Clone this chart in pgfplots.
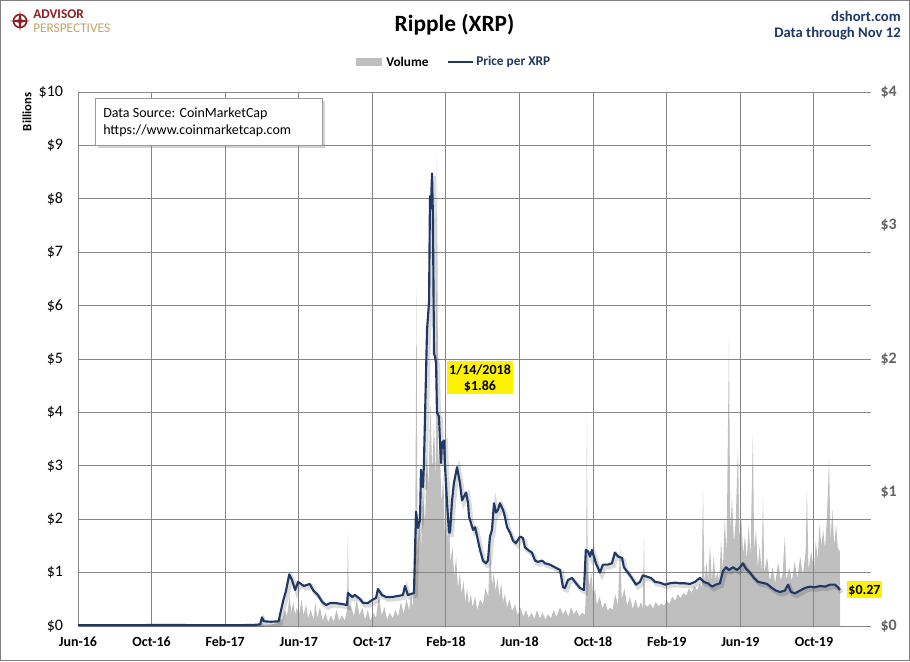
\documentclass[border=0pt]{standalone}
\usepackage{fontspec}
\setmainfont{Carlito}
\usepackage{pgfplots}
\pgfplotsset{compat=1.18}
\usetikzlibrary{shadows}
\definecolor{navy}{RGB}{31,56,100}
\definecolor{volgray}{RGB}{191,191,191}
\definecolor{gridgray}{RGB}{134,134,134}
\definecolor{logored}{RGB}{142,30,34}
\definecolor{logogold}{RGB}{196,162,101}
\definecolor{rightgray}{RGB}{100,100,100}
\begin{document}
\begin{tikzpicture}
\path[use as bounding box] (0,0) rectangle (682.5pt,-495.75pt);
\draw[color=gray, line width=0.75pt] (0.375pt,-0.375pt) rectangle (682.125pt,-495.375pt);

% volume axis
\begin{axis}[
  at={(58.5pt,-469.5pt)}, anchor=south west,
  scale only axis, width=594.75pt, height=400.5pt,
  xmin=0, xmax=43.1, ymin=0, ymax=10,
  axis on top,
  axis line style={draw=none},
  major tick length=0pt,
  xtick={0,4,8,12,16,20,24,28,32,36,40},
  xticklabels={Jun-16,Oct-16,Feb-17,Jun-17,Oct-17,Feb-18,Jun-18,Oct-18,Feb-19,Jun-19,Oct-19},
  ytick={0,1,2,3,4,5,6,7,8,9,10},
  yticklabels={\$0,\$1,\$2,\$3,\$4,\$5,\$6,\$7,\$8,\$9,\$10},
  grid=major,
  major grid style={color=gridgray, line width=0.75pt},
  yticklabel style={font=\fontsize{12}{14}\selectfont, inner sep=0pt, xshift=-11pt},
  xticklabel style={font=\bfseries\fontsize{10.5}{12}\selectfont, inner sep=0pt, yshift=-8pt},
  clip=true,
]
\addplot[draw=none, fill=volgray] coordinates {
(0,0.002)(5,0.003)(9.8,0.005)(10.0,0.06)(10.1,0.02)(10.5,0.03)(10.8,0.05)(11.0,0.15)(11.1,0.1)(11.25,0.3)(11.35,0.18)(11.5,0.55)(11.6,0.25)(11.7,0.45)(11.8,0.22)(11.9,0.35)(12.0,0.18)(12.15,0.5)(12.25,0.2)(12.4,0.4)(12.5,0.15)(12.65,0.3)(12.8,0.12)(12.9,0.45)(13.0,0.15)(13.15,0.35)(13.3,0.1)(13.45,0.25)(13.6,0.07)(13.75,0.2)(13.9,0.08)(14.05,0.3)(14.2,0.1)(14.35,0.2)(14.5,0.1)(14.62,0.3)(14.67,1.76)(14.72,0.4)(14.85,0.35)(15.0,0.18)(15.15,0.5)(15.3,0.2)(15.45,0.35)(15.6,0.12)(15.75,0.3)(15.9,0.1)(16.05,0.25)(16.2,0.15)(16.35,0.6)(16.5,0.2)(16.65,0.35)(16.8,0.12)(16.95,0.25)(17.1,0.14)(17.25,0.3)(17.4,0.18)(17.55,0.45)(17.7,0.22)(17.85,0.5)(18.0,0.3)(18.1,0.6)(18.2,0.35)(18.32,1.2)(18.4,6.3)(18.45,1.4)(18.55,2.0)(18.65,1.5)(18.75,2.5)(18.86,1.9)(18.95,3.2)(19.05,2.6)(19.15,4.2)(19.25,2.9)(19.35,3.8)(19.45,2.7)(19.51,8.9)(19.56,3.0)(19.65,3.6)(19.75,2.3)(19.85,2.8)(19.95,1.6)(20.0,3.0)(20.05,1.6)(20.15,2.0)(20.25,1.2)(20.35,1.5)(20.45,0.9)(20.55,1.3)(20.65,0.7)(20.75,1.0)(20.85,0.6)(20.95,0.85)(21.05,0.45)(21.15,0.7)(21.25,0.4)(21.35,0.6)(21.45,0.35)(21.58,0.55)(21.7,0.3)(21.85,0.5)(22.0,0.4)(22.15,0.7)(22.3,0.55)(22.4,1.5)(22.5,0.75)(22.6,1.0)(22.7,0.65)(22.8,0.9)(22.9,0.55)(23.0,0.8)(23.1,0.45)(23.2,0.6)(23.32,0.35)(23.45,0.5)(23.6,0.28)(23.75,0.4)(23.9,0.2)(24.05,0.35)(24.2,0.18)(24.35,0.3)(24.5,0.15)(24.65,0.25)(24.8,0.13)(24.95,0.3)(25.1,0.14)(25.25,0.25)(25.4,0.12)(25.55,0.22)(25.7,0.14)(25.85,0.3)(26.0,0.17)(26.2,0.35)(26.35,0.22)(26.5,0.3)(26.65,0.18)(26.8,0.35)(26.95,0.22)(27.1,0.3)(27.25,0.18)(27.4,0.25)(27.55,0.2)(27.62,0.8)(27.66,4.1)(27.7,1.0)(27.8,0.75)(27.9,1.0)(28.0,0.55)(28.1,0.7)(28.2,0.4)(28.35,0.55)(28.5,0.33)(28.65,0.45)(28.8,0.28)(28.91,0.35)(29.05,0.3)(29.2,0.6)(29.35,0.38)(29.46,1.55)(29.55,0.5)(29.7,0.7)(29.85,0.38)(30.0,0.55)(30.15,0.32)(30.3,0.5)(30.45,0.32)(30.6,0.45)(30.7,0.32)(30.76,1.67)(30.82,0.4)(30.95,0.36)(31.1,0.42)(31.25,0.33)(31.4,0.45)(31.55,0.37)(31.7,0.42)(31.85,0.38)(32.0,0.47)(32.15,0.42)(32.3,0.55)(32.45,0.47)(32.6,0.6)(32.75,0.52)(32.9,0.62)(33.05,0.57)(33.2,0.7)(33.35,0.62)(33.5,0.75)(33.65,0.67)(33.8,0.8)(33.9,0.72)(33.97,2.55)(34.05,0.82)(34.15,1.2)(34.25,0.87)(34.35,1.5)(34.45,0.85)(34.55,1.3)(34.65,0.88)(34.75,1.0)(34.85,0.85)(34.95,1.6)(35.05,1.05)(35.15,2.0)(35.25,1.35)(35.38,5.36)(35.45,1.8)(35.55,2.4)(35.65,1.55)(35.75,2.0)(35.87,3.35)(35.95,1.65)(36.05,2.0)(36.15,1.35)(36.25,1.7)(36.35,1.25)(36.45,1.9)(36.55,1.3)(36.68,3.6)(36.75,1.4)(36.85,1.8)(36.95,1.1)(37.05,1.5)(37.15,1.0)(37.23,2.4)(37.3,1.0)(37.45,1.3)(37.6,0.85)(37.75,1.1)(37.9,0.8)(38.05,1.2)(38.2,0.85)(38.3,1.0)(38.42,1.7)(38.5,0.85)(38.65,1.1)(38.8,0.85)(38.95,1.2)(39.1,0.9)(39.25,1.3)(39.4,0.95)(39.55,1.4)(39.62,2.55)(39.7,1.05)(39.85,1.4)(40.0,1.05)(40.1,1.6)(40.2,1.25)(40.3,1.9)(40.4,1.5)(40.5,1.8)(40.6,1.45)(40.7,2.0)(40.82,3.1)(40.9,1.6)(41.0,2.2)(41.1,1.5)(41.2,1.9)(41.3,1.45)(41.41,1.4)(41.42,0)
} \closedcycle;
\end{axis}

% price axis
\begin{axis}[
  at={(58.5pt,-469.5pt)}, anchor=south west,
  scale only axis, width=594.75pt, height=400.5pt,
  xmin=0, xmax=43.1, ymin=0, ymax=4,
  axis x line=none,
  axis y line*=right,
  axis line style={draw=none},
  major tick length=0pt,
  ytick={0,1,2,3,4},
  yticklabels={\$0,\$1,\$2,\$3,\$4},
  yticklabel style={font=\bfseries\fontsize{12}{14}\selectfont, text=rightgray, inner sep=0pt, xshift=7pt},
]
\addplot[black, opacity=0.14, line width=3pt, xshift=1.5pt, yshift=-2pt] coordinates {
(0,0.0065)(1,0.0063)(2,0.0068)(3,0.0062)(4,0.0075)(5,0.0078)(6,0.007)(7,0.0065)(8,0.0066)(9,0.007)(9.5,0.0075)(9.9,0.012)(10.0,0.065)(10.1,0.035)(10.5,0.032)(10.9,0.035)(11.16,0.195)(11.3,0.26)(11.48,0.387)(11.63,0.345)(11.8,0.27)(11.96,0.33)(12.28,0.30)(12.6,0.315)(12.77,0.27)(13.04,0.232)(13.26,0.182)(13.48,0.157)(13.7,0.172)(13.97,0.172)(14.35,0.165)(14.62,0.157)(14.67,0.247)(14.9,0.217)(15.05,0.232)(15.33,0.202)(15.49,0.172)(15.76,0.172)(15.98,0.195)(16.2,0.21)(16.3,0.277)(16.52,0.232)(16.74,0.217)(17.07,0.217)(17.39,0.225)(17.66,0.232)(17.77,0.30)(17.93,0.232)(18.26,0.247)(18.37,0.856)(18.48,0.734)(18.59,0.794)(18.64,1.17)(18.75,1.04)(18.8,1.21)(18.97,2.22)(19.08,2.43)(19.13,3.22)(19.18,3.13)(19.24,3.39)(19.29,3.07)(19.35,2.04)(19.4,2.02)(19.46,1.97)(19.51,1.60)(19.62,1.57)(19.67,1.39)(19.73,1.22)(19.78,1.37)(19.89,1.39)(19.95,1.19)(20.05,0.94)(20.16,0.70)(20.22,0.70)(20.33,0.94)(20.43,1.07)(20.6,1.19)(20.76,1.07)(20.87,0.94)(21.09,1.0)(21.2,0.92)(21.25,0.82)(21.47,0.72)(21.58,0.74)(21.74,0.64)(21.85,0.57)(22.01,0.49)(22.17,0.47)(22.28,0.49)(22.39,0.67)(22.5,0.72)(22.61,0.92)(22.72,0.85)(22.83,0.87)(22.93,0.92)(23.1,0.87)(23.2,0.82)(23.32,0.74)(23.48,0.70)(23.64,0.64)(23.8,0.62)(24.02,0.67)(24.18,0.66)(24.29,0.59)(24.46,0.57)(24.67,0.55)(24.84,0.49)(25.0,0.48)(25.22,0.49)(25.38,0.47)(25.65,0.46)(25.92,0.44)(26.2,0.42)(26.36,0.29)(26.47,0.285)(26.63,0.345)(26.85,0.36)(27.07,0.32)(27.28,0.285)(27.5,0.27)(27.6,0.57)(27.72,0.56)(27.83,0.52)(27.93,0.57)(28.15,0.47)(28.37,0.40)(28.53,0.46)(28.8,0.46)(29.02,0.47)(29.18,0.55)(29.35,0.52)(29.57,0.51)(29.67,0.44)(29.89,0.40)(30.1,0.36)(30.33,0.31)(30.54,0.33)(30.7,0.38)(30.92,0.37)(31.14,0.36)(31.36,0.33)(31.63,0.325)(31.9,0.31)(32.17,0.32)(32.45,0.325)(32.72,0.32)(32.99,0.32)(33.26,0.315)(33.53,0.33)(33.8,0.36)(34.02,0.33)(34.24,0.32)(34.46,0.295)(34.67,0.31)(34.89,0.32)(35.05,0.41)(35.22,0.44)(35.38,0.42)(35.6,0.44)(35.82,0.42)(35.98,0.44)(36.14,0.47)(36.3,0.43)(36.52,0.40)(36.74,0.36)(36.96,0.33)(37.17,0.325)(37.45,0.315)(37.72,0.285)(37.93,0.265)(38.15,0.255)(38.42,0.265)(38.59,0.31)(38.75,0.255)(38.97,0.245)(39.24,0.265)(39.51,0.285)(39.78,0.295)(40.05,0.29)(40.33,0.30)(40.6,0.295)(40.87,0.31)(41.14,0.31)(41.3,0.29)(41.41,0.27)
};
\addplot[navy, line width=1.6pt, line join=round] coordinates {
(0,0.0065)(1,0.0063)(2,0.0068)(3,0.0062)(4,0.0075)(5,0.0078)(6,0.007)(7,0.0065)(8,0.0066)(9,0.007)(9.5,0.0075)(9.9,0.012)(10.0,0.065)(10.1,0.035)(10.5,0.032)(10.9,0.035)(11.16,0.195)(11.3,0.26)(11.48,0.387)(11.63,0.345)(11.8,0.27)(11.96,0.33)(12.28,0.30)(12.6,0.315)(12.77,0.27)(13.04,0.232)(13.26,0.182)(13.48,0.157)(13.7,0.172)(13.97,0.172)(14.35,0.165)(14.62,0.157)(14.67,0.247)(14.9,0.217)(15.05,0.232)(15.33,0.202)(15.49,0.172)(15.76,0.172)(15.98,0.195)(16.2,0.21)(16.3,0.277)(16.52,0.232)(16.74,0.217)(17.07,0.217)(17.39,0.225)(17.66,0.232)(17.77,0.30)(17.93,0.232)(18.26,0.247)(18.37,0.856)(18.48,0.734)(18.59,0.794)(18.64,1.17)(18.75,1.04)(18.8,1.21)(18.97,2.22)(19.08,2.43)(19.13,3.22)(19.18,3.13)(19.24,3.39)(19.29,3.07)(19.35,2.04)(19.4,2.02)(19.46,1.97)(19.51,1.60)(19.62,1.57)(19.67,1.39)(19.73,1.22)(19.78,1.37)(19.89,1.39)(19.95,1.19)(20.05,0.94)(20.16,0.70)(20.22,0.70)(20.33,0.94)(20.43,1.07)(20.6,1.19)(20.76,1.07)(20.87,0.94)(21.09,1.0)(21.2,0.92)(21.25,0.82)(21.47,0.72)(21.58,0.74)(21.74,0.64)(21.85,0.57)(22.01,0.49)(22.17,0.47)(22.28,0.49)(22.39,0.67)(22.5,0.72)(22.61,0.92)(22.72,0.85)(22.83,0.87)(22.93,0.92)(23.1,0.87)(23.2,0.82)(23.32,0.74)(23.48,0.70)(23.64,0.64)(23.8,0.62)(24.02,0.67)(24.18,0.66)(24.29,0.59)(24.46,0.57)(24.67,0.55)(24.84,0.49)(25.0,0.48)(25.22,0.49)(25.38,0.47)(25.65,0.46)(25.92,0.44)(26.2,0.42)(26.36,0.29)(26.47,0.285)(26.63,0.345)(26.85,0.36)(27.07,0.32)(27.28,0.285)(27.5,0.27)(27.6,0.57)(27.72,0.56)(27.83,0.52)(27.93,0.57)(28.15,0.47)(28.37,0.40)(28.53,0.46)(28.8,0.46)(29.02,0.47)(29.18,0.55)(29.35,0.52)(29.57,0.51)(29.67,0.44)(29.89,0.40)(30.1,0.36)(30.33,0.31)(30.54,0.33)(30.7,0.38)(30.92,0.37)(31.14,0.36)(31.36,0.33)(31.63,0.325)(31.9,0.31)(32.17,0.32)(32.45,0.325)(32.72,0.32)(32.99,0.32)(33.26,0.315)(33.53,0.33)(33.8,0.36)(34.02,0.33)(34.24,0.32)(34.46,0.295)(34.67,0.31)(34.89,0.32)(35.05,0.41)(35.22,0.44)(35.38,0.42)(35.6,0.44)(35.82,0.42)(35.98,0.44)(36.14,0.47)(36.3,0.43)(36.52,0.40)(36.74,0.36)(36.96,0.33)(37.17,0.325)(37.45,0.315)(37.72,0.285)(37.93,0.265)(38.15,0.255)(38.42,0.265)(38.59,0.31)(38.75,0.255)(38.97,0.245)(39.24,0.265)(39.51,0.285)(39.78,0.295)(40.05,0.29)(40.33,0.30)(40.6,0.295)(40.87,0.31)(41.14,0.31)(41.3,0.29)(41.41,0.27)
};
\end{axis}

\begin{scope}[x=0.75pt, y=-0.75pt]
% logo
\draw[logored, line width=1.2pt] (20,21) circle (6.5);
\fill[logored] (20,11) -- (21.5,19.5) -- (30,21) -- (21.5,22.5) -- (20,31) -- (18.5,22.5) -- (10,21) -- (18.5,19.5) -- cycle;
\node[anchor=north west, inner sep=0pt, align=left, font=\fontsize{10}{10.5}\selectfont] at (33,9) {\textcolor{logored}{\bfseries ADVISOR}\\\textcolor{logogold}{PERSPECTIVES}};
% title
\node[anchor=base, inner sep=0pt, font=\bfseries\fontsize{17.5}{20}\selectfont] at (454.5,31.7) {Ripple (XRP)};
\node[anchor=base east, inner sep=0pt, text=navy, font=\bfseries\fontsize{11}{13}\selectfont] at (901,21) {dshort.com};
\node[anchor=base east, inner sep=0pt, text=navy, font=\bfseries\fontsize{11}{13}\selectfont] at (901,37.5) {Data through Nov 12};
% legend
\fill[volgray] (356,58) rectangle (382,66);
\node[anchor=west, inner sep=0pt, font=\bfseries\fontsize{10}{12}\selectfont] at (386,62) {Volume};
\draw[navy, line width=1.6pt] (448,62) -- (473,62);
\node[anchor=west, inner sep=0pt, text=navy, font=\bfseries\fontsize{10}{12}\selectfont] at (476,62) {Price per XRP};
% y label
\node[rotate=90, inner sep=0pt, font=\bfseries\fontsize{9.5}{11}\selectfont] at (27,112) {Billions};
% source box
\draw[draw=gray!80, fill=white, line width=0.75pt, drop shadow={shadow xshift=2pt, shadow yshift=-2pt, opacity=0.35}] (95,98) rectangle (322,145);
\node[anchor=base west, inner sep=0pt, font=\fontsize{10.5}{12}\selectfont] at (103,117) {Data Source: CoinMarketCap};
\node[anchor=base west, inner sep=0pt, font=\fontsize{10.5}{12}\selectfont] at (103,134) {https://www.coinmarketcap.com};
% annotation
\fill[yellow] (447,361) rectangle (513,394);
\node[anchor=base, inner sep=0pt, font=\bfseries\fontsize{10.5}{12}\selectfont] at (480,374.5) {1/14/2018};
\node[anchor=base, inner sep=0pt, font=\bfseries\fontsize{10.5}{12}\selectfont] at (480,390) {\$1.86};
\fill[yellow] (847,581) rectangle (882,598);
\node[anchor=base, inner sep=0pt, font=\bfseries\fontsize{10.5}{12}\selectfont] at (864.5,594) {\$0.27};
\end{scope}
\end{tikzpicture}
\end{document}
